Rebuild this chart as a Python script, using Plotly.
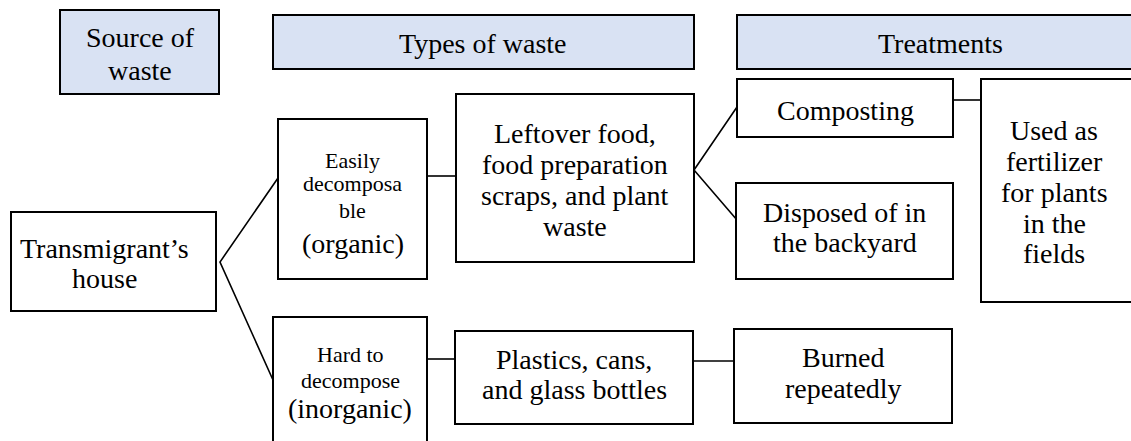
import plotly.graph_objects as go

# ---- content ----
headers = ["Source of<br>waste", "Types of waste", "Treatments"]
node_names = ["house", "easy", "hard", "leftover", "plastics", "compost", "dispose", "burn", "fert"]
node_lines = {
    "house": ["Transmigrant\u2019s", "house"],
    "easy": ["Easily", "decomposa", "ble", "(organic)"],
    "hard": ["Hard to", "decompose", "(inorganic)"],
    "leftover": ["Leftover food,", "food preparation", "scraps, and plant", "waste"],
    "plastics": ["Plastics, cans,", "and glass bottles"],
    "compost": ["Composting"],
    "dispose": ["Disposed of in", "the backyard"],
    "burn": ["Burned", "repeatedly"],
    "fert": ["Used as", "fertilizer", "for plants", "in the", "fields"],
}

# ---- layout (pixel coordinates, y downward) ----
W, H = 1131, 441
header_boxes = [(60, 10, 219, 94), (273, 15, 694, 69), (737, 15, 1145, 69)]
header_text_y = [[37, 70], [43], [43]]
header_text_x = [140, 483, 940]
boxes = {
    "house": (11, 212, 216, 311),
    "easy": (278, 119, 427, 279),
    "hard": (273, 317, 427, 460),
    "leftover": (456, 94, 694, 262),
    "plastics": (455, 331, 693, 424),
    "compost": (737, 79, 953, 137),
    "dispose": (736, 183, 953, 279),
    "burn": (734, 329, 952, 423),
    "fert": (981, 79, 1145, 302),
}
line_y = {
    "house": [248, 278],
    "easy": [160, 183, 210, 243],
    "hard": [354, 380, 408],
    "leftover": [133, 164, 195, 226],
    "plastics": [359, 389],
    "compost": [110],
    "dispose": [212, 242],
    "burn": [357, 388],
    "fert": [130, 161, 192, 223, 253],
}
line_size = {
    "easy": [22, 22, 22, 28],
    "hard": [22, 22, 28],
}
text_x = {"house": 104, "fert": 1054}
connectors = [
    [(278, 178), (220, 262), (273, 380)],
    [(427, 176), (456, 176)],
    [(427, 359), (455, 359)],
    [(737, 107), (694, 170), (737, 220)],
    [(693, 361), (734, 361)],
    [(953, 100), (981, 100)],
]

FONT = "Liberation Serif"
MAIN = 28
fig = go.Figure()
shapes = []
annotations = []

for (x0, y0, x1, y1), txt, ys, cx in zip(header_boxes, headers, header_text_y, header_text_x):
    shapes.append(dict(type="rect", xref="x", yref="y", x0=x0, y0=y0, x1=x1, y1=y1,
                       fillcolor="#D9E2F3", line=dict(color="black", width=2)))
    for p, yy in zip(txt.split("<br>"), ys):
        annotations.append(dict(x=cx, y=yy, xref="x", yref="y", text=p, showarrow=False,
                                xanchor="center", yanchor="middle",
                                font=dict(family=FONT, size=MAIN, color="black")))

for name in node_names:
    x0, y0, x1, y1 = boxes[name]
    shapes.append(dict(type="rect", xref="x", yref="y", x0=x0, y0=y0, x1=x1, y1=y1,
                       fillcolor="white", line=dict(color="black", width=2)))
    cx = text_x.get(name, (x0 + x1) / 2)
    sizes = line_size.get(name, [MAIN] * len(node_lines[name]))
    for p, yy, s in zip(node_lines[name], line_y[name], sizes):
        annotations.append(dict(x=cx, y=yy, xref="x", yref="y", text=p, showarrow=False,
                                xanchor="center", yanchor="middle",
                                font=dict(family=FONT, size=s, color="black")))

for c in connectors:
    fig.add_trace(go.Scatter(x=[p[0] for p in c], y=[p[1] for p in c], mode="lines",
                             line=dict(color="black", width=1.6), hoverinfo="skip",
                             showlegend=False))

fig.update_layout(
    width=W, height=H, margin=dict(l=0, r=0, t=0, b=0),
    paper_bgcolor="white", plot_bgcolor="white",
    shapes=shapes, annotations=annotations, showlegend=False,
    xaxis=dict(range=[0, W], visible=False, fixedrange=True),
    yaxis=dict(range=[H, 0], visible=False, fixedrange=True),
)
fig.write_html("out.html", config={"displayModeBar": False},
               post_script="document.body.style.margin='0';document.body.style.overflow='hidden';")
